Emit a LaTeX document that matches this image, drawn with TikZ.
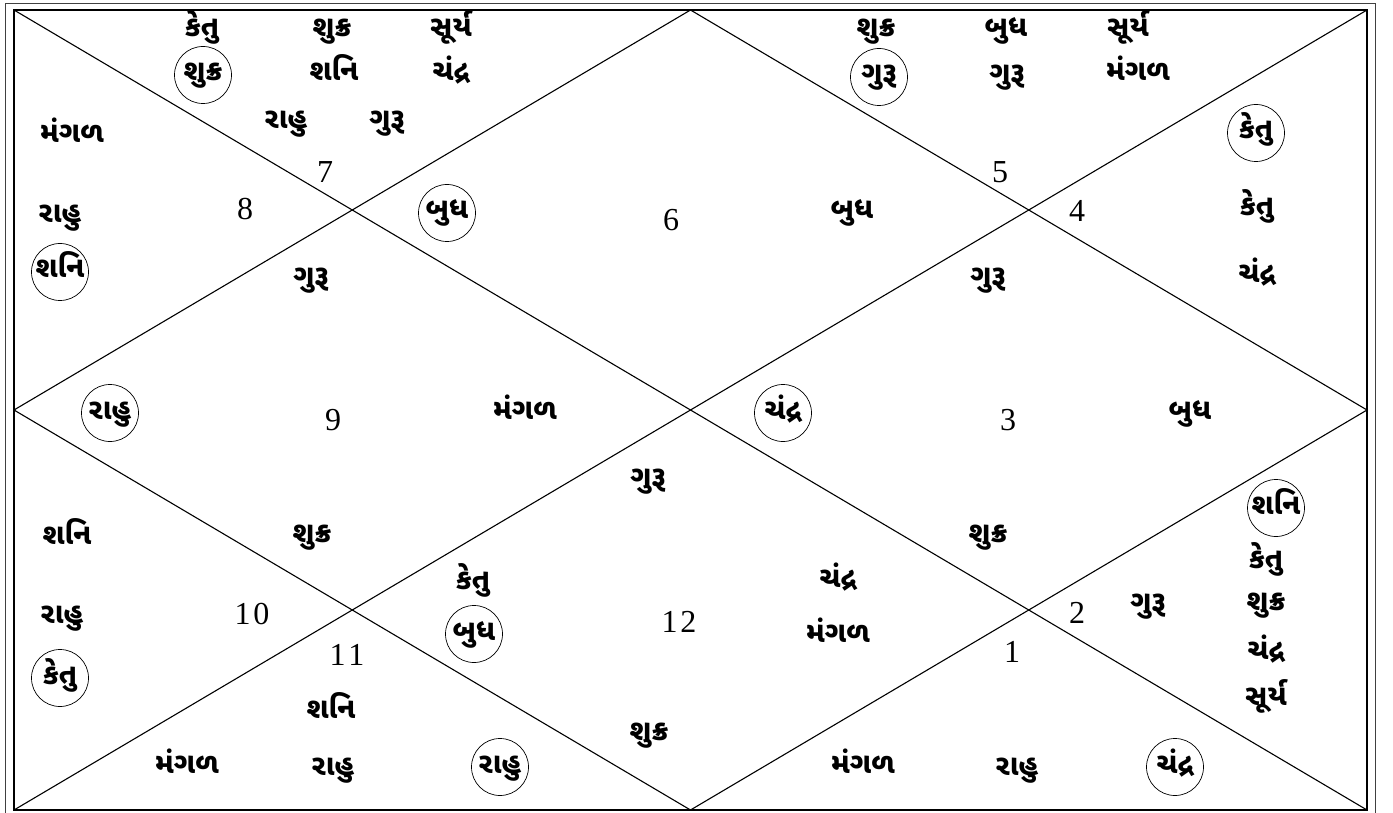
\documentclass[tikz,border=0pt]{standalone}
\usepackage{fontspec}
\setmainfont{Liberation Serif}
\newfontfamily\guj[Script=Gujarati]{Noto Sans Gujarati UI}
\begin{document}
\begin{tikzpicture}[x=1pt,y=-1pt,
  lbl/.style={font=\guj\bfseries\fontsize{29}{31}\selectfont, inner sep=0pt, text height=19pt, text depth=7pt},
  circ/.style={lbl, draw, circle, line width=0.7pt, minimum size=57pt},
  num/.style={font=\fontsize{32}{34}\selectfont, inner sep=0pt},
  frame/.style={line width=1.5pt},
  outer/.style={line width=0.9pt, black!75},
  grid/.style={line width=1.1pt}]
\useasboundingbox (0,0) rectangle (1393,813);
% corners
\coordinate (oTL) at (5,3); \coordinate (oBR) at (1375,813.5);
\coordinate (TL) at (14,10); \coordinate (TR) at (1367,10);
\coordinate (BR) at (1367,810); \coordinate (BL) at (14,810);
\coordinate (T) at (690.5,10); \coordinate (B) at (690.5,810);
\coordinate (L) at (14,410); \coordinate (R) at (1367,410);
\draw[outer] (oTL) rectangle (oBR);
\draw[frame] (TL) rectangle (BR);
\draw[grid] (TL) -- (BR);
\draw[grid] (TR) -- (BL);
\draw[grid] (T) -- (R) -- (B) -- (L) -- cycle;
% numbers
\node[num] (n1) at (1012,652) {1};
\node[num] (n2) at (1077,613) {2};
\node[num] (n3) at (1008,420) {3};
\node[num] (n4) at (1077,211) {4};
\node[num] (n5) at (1000,172) {5};
\node[num] (n6) at (671,220) {6};
\node[num] (n7) at (325,172) {7};
\node[num] (n8) at (245,209) {8};
\node[num] (n9) at (333,420) {9};
\node[num] (n10) at (252,614) {1\kern3pt0};
\node[num] (n11) at (347,655) {1\kern3pt1};
\node[num] (n12) at (679,622) {1\kern3pt2};
% top-left triangle
\node[lbl] (a1) at (202,31) {કેતુ};
\node[lbl] (a2) at (332,31) {શુક્ર};
\node[lbl] (a3) at (451,31) {સૂર્ય};
\node[circ] (a4) at (203,75) {શુક્ર};
\node[lbl] (a5) at (334,75) {શનિ};
\node[lbl] (a6) at (451,75) {ચંદ્ર};
\node[lbl] (a7) at (286,123) {રાહુ};
\node[lbl] (a8) at (387,123) {ગુરૂ};
% left upper triangle
\node[lbl] (b1) at (72,137) {મંગળ};
\node[lbl] (b2) at (60,217) {રાહુ};
\node[circ] (b3) at (60,272) {શનિ};
% top diamond
\node[circ] (c1) at (447,213) {બુધ};
\node[lbl] (c2) at (852,213) {બુધ};
\node[lbl] (c3) at (311,280) {ગુરૂ};
\node[lbl] (c4) at (988,280) {ગુરૂ};
% top-right triangle
\node[lbl] (d1) at (876,31) {શુક્ર};
\node[lbl] (d2) at (1006,31) {બુધ};
\node[lbl] (d3) at (1128,31) {સૂર્ય};
\node[circ] (d4) at (879,77) {ગુરૂ};
\node[lbl] (d5) at (1007,77) {ગુરૂ};
\node[lbl] (d6) at (1138,75) {મંગળ};
% right upper triangle
\node[circ] (e1) at (1256,133) {કેતુ};
\node[lbl] (e2) at (1257,210) {કેતુ};
\node[lbl] (e3) at (1257,277) {ચંદ્ર};
% middle row
\node[circ] (f1) at (110,413) {રાહુ};
\node[lbl] (f2) at (525,413) {મંગળ};
\node[circ] (f3) at (783,413) {ચંદ્ર};
\node[lbl] (f4) at (1190,413) {બુધ};
\node[lbl] (f5) at (648,480) {ગુરૂ};
\node[lbl] (f6) at (312,536) {શુક્ર};
\node[lbl] (f7) at (988,536) {શુક્ર};
% left lower triangle
\node[lbl] (g1) at (67,538) {શનિ};
\node[lbl] (g2) at (62,617) {રાહુ};
\node[circ] (g3) at (60,678) {કેતુ};
% bottom diamond
\node[lbl] (h1) at (473,583) {કેતુ};
\node[circ] (h2) at (474,634) {બુધ};
\node[lbl] (h3) at (838,581) {ચંદ્ર};
\node[lbl] (h4) at (838,636) {મંગળ};
\node[lbl] (h5) at (649,734) {શુક્ર};
% right lower triangle
\node[circ] (i1) at (1276,508) {શનિ};
\node[lbl] (i2) at (1266,562) {કેતુ};
\node[lbl] (i3) at (1266,604) {શુક્ર};
\node[lbl] (i4) at (1266,653) {ચંદ્ર};
\node[lbl] (i5) at (1266,699) {સૂર્ય};
\node[lbl] (i6) at (1148,605) {ગુરૂ};
% bottom-left triangle
\node[lbl] (j1) at (331,712) {શનિ};
\node[lbl] (j2) at (187,767) {મંગળ};
\node[lbl] (j3) at (333,769) {રાહુ};
\node[circ] (j4) at (500,767) {રાહુ};
% bottom-right triangle
\node[lbl] (k1) at (863,767) {મંગળ};
\node[lbl] (k2) at (1017,769) {રાહુ};
\node[circ] (k3) at (1175,767) {ચંદ્ર};
\end{tikzpicture}
\end{document}
